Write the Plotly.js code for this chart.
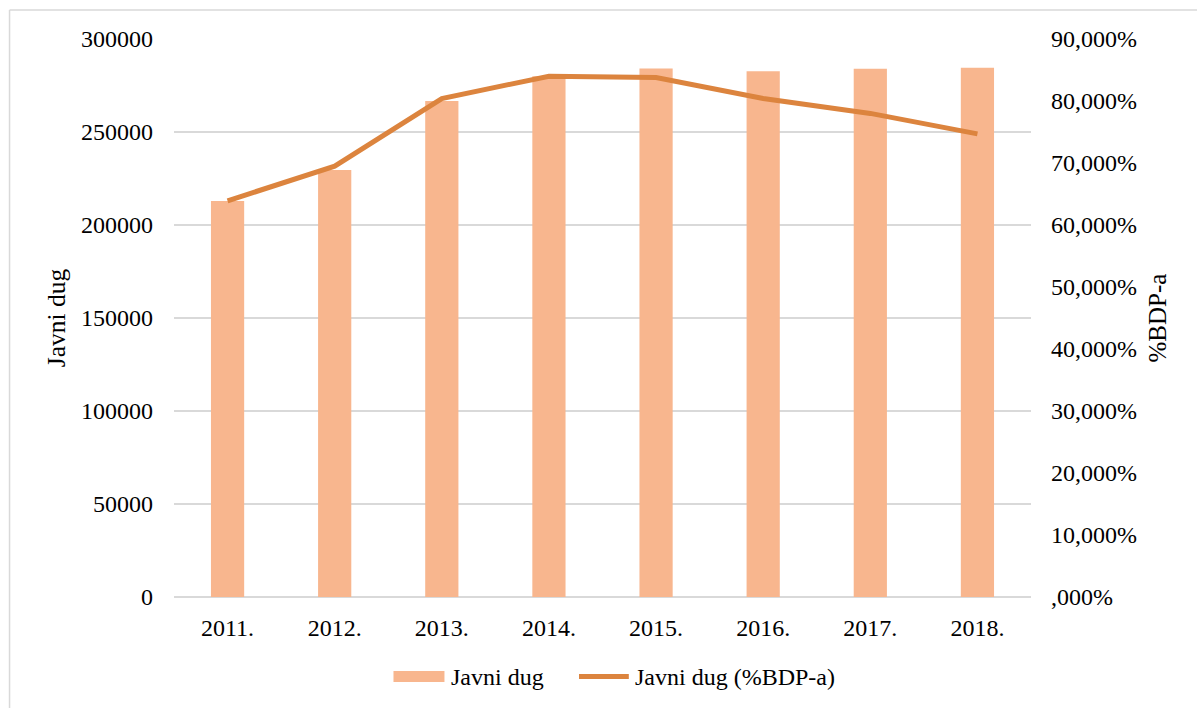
<!DOCTYPE html>
<html>
<head>
<meta charset="utf-8">
<script src="https://cdn.plot.ly/plotly-3.0.1.min.js"></script>
<style>
html,body{margin:0;padding:0;background:#fff;}
#chart{width:1197px;height:708px;}
</style>
</head>
<body>
<div id="chart"></div>
<script>
var years = ["2011.", "2012.", "2013.", "2014.", "2015.", "2016.", "2017.", "2018."];
var debt = [212900, 229600, 266700, 280000, 284200, 282600, 284000, 284600];
var debtPctGdp = [63.9, 69.5, 80.4, 84.0, 83.8, 80.4, 78.0, 74.7];
var leftTicks = [0, 50000, 100000, 150000, 200000, 250000, 300000];
var rightTickVals = [0, 10, 20, 30, 40, 50, 60, 70, 80, 90];
var rightTickText = [",000%", "10,000%", "20,000%", "30,000%", "40,000%", "50,000%", "60,000%", "70,000%", "80,000%", "90,000%"];
var seriesNames = ["Javni dug", "Javni dug (%BDP-a)"];
var barColor = "#F8B68E";
var lineColor = "#DC843E";

var FONT = "Liberation Serif, Times New Roman, serif";

var traces = [
  {
    type: "bar",
    name: seriesNames[0],
    x: years,
    y: debt,
    marker: {color: barColor},
    width: 0.31,
    yaxis: "y",
    showlegend: false
  },
  {
    type: "scatter",
    mode: "lines",
    name: seriesNames[1],
    x: years,
    y: debtPctGdp,
    line: {color: lineColor, width: 5},
    yaxis: "y2",
    showlegend: false
  }
];

var layout = {
  width: 1197,
  height: 708,
  paper_bgcolor: "#ffffff",
  plot_bgcolor: "#ffffff",
  font: {family: FONT, size: 24, color: "#000000"},
  margin: {l: 173.5, r: 166.3, t: 39, b: 111, pad: 0},
  showlegend: false,
  xaxis: {
    type: "category",
    showgrid: false,
    showline: false,
    zeroline: false,
    ticks: "",
    tickfont: {family: FONT, size: 24, color: "#000"},
    ticklabelstandoff: 14
  },
  yaxis: {
    range: [0, 300000],
    tickvals: leftTicks,
    ticktext: leftTicks.map(String),
    showgrid: true,
    gridcolor: "#D9D9D9",
    gridwidth: 2,
    zeroline: true,
    zerolinecolor: "#D9D9D9",
    zerolinewidth: 2,
    showline: false,
    ticks: "",
    ticklabelstandoff: 20,
    tickfont: {family: FONT, size: 24, color: "#000"},
    title: {text: "Javni dug", font: {family: FONT, size: 25.5, color: "#000"}, standoff: 8},
    automargin: false
  },
  yaxis2: {
    overlaying: "y",
    side: "right",
    range: [0, 90],
    tickvals: rightTickVals,
    ticktext: rightTickText,
    showgrid: false,
    zeroline: false,
    showline: false,
    ticks: "",
    ticklabelstandoff: 19,
    tickfont: {family: FONT, size: 24, color: "#000"},
    title: {text: "%BDP-a", font: {family: FONT, size: 25, color: "#000"}, standoff: 12},
    automargin: false
  },
  shapes: [
    {type: "line", xref: "paper", yref: "paper", x0: -0.1919, x1: -0.1919, y0: 1.0520, y1: -0.3, line: {color: "#D9D9D9", width: 1.5}},
    {type: "line", xref: "paper", yref: "paper", x0: -0.1919, x1: 1.25, y0: 1.0520, y1: 1.0520, line: {color: "#D9D9D9", width: 1.5}},
    /* legend keys */
    {type: "rect", xref: "paper", yref: "paper", x0: 0.2561, x1: 0.3156, y0: -0.1523, y1: -0.1326, line: {width: 0}, fillcolor: barColor},
    {type: "line", xref: "paper", yref: "paper", x0: 0.4726, x1: 0.5307, y0: -0.1425, y1: -0.1425, line: {color: lineColor, width: 5}}
  ],
  annotations: [
    {xref: "paper", yref: "paper", x: 0.3210, y: -0.1425, xanchor: "left", yanchor: "middle", showarrow: false, text: seriesNames[0], font: {family: FONT, size: 24, color: "#000"}},
    {xref: "paper", yref: "paper", x: 0.5355, y: -0.1425, xanchor: "left", yanchor: "middle", showarrow: false, text: seriesNames[1], font: {family: FONT, size: 24, color: "#000"}}
  ]
};

Plotly.newPlot("chart", traces, layout, {displayModeBar: false, staticPlot: true});
</script>
</body>
</html>
